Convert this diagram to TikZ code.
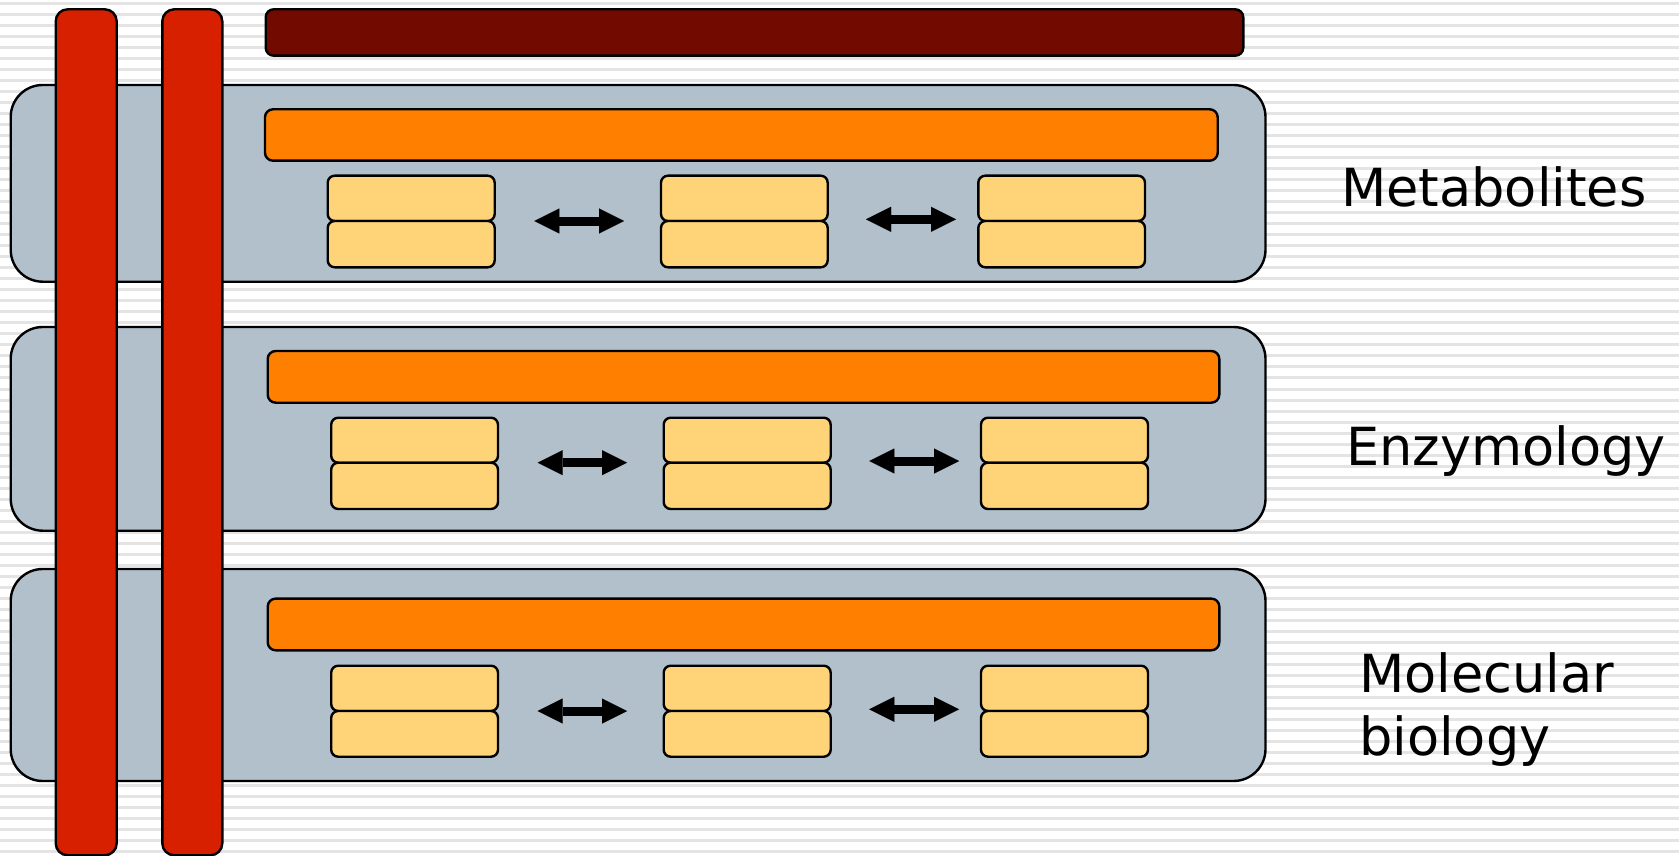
\documentclass[tikz,border=0pt]{standalone}
\usepackage{fontspec}
\setmainfont{DejaVu Sans}
\usetikzlibrary{fit,arrows.meta}
\definecolor{stripegray}{HTML}{E4E4E4}
\definecolor{barred}{HTML}{D62000}
\definecolor{darkbar}{HTML}{720A00}
\definecolor{panelgray}{HTML}{B2C0CC}
\definecolor{layerorange}{HTML}{FF7F00}
\definecolor{cellyellow}{HTML}{FFD479}
\begin{document}
\begin{tikzpicture}[x=1pt,y=-1pt,
  shape box/.style={draw=black, line width=2.4pt, inner sep=0pt, outer sep=0pt},
  pillar/.style={shape box, fill=barred, rounded corners=12pt},
  headbar/.style={shape box, fill=darkbar, rounded corners=8pt},
  panel/.style={shape box, fill=panelgray, rounded corners=32pt},
  layerbar/.style={shape box, fill=layerorange, rounded corners=8pt},
  cell/.style={shape box, fill=cellyellow, rounded corners=7pt},
  swap/.style={line width=9pt, draw=black,
    {Triangle[length=25pt,width=25pt,line width=0.01pt]}-{Triangle[length=25pt,width=25pt,line width=0.01pt]}},
  label/.style={anchor=base west, inner sep=0pt, font=\fontsize{52.5}{63}\selectfont}]

% page and striped backdrop
\useasboundingbox (0,0) rectangle (1679,856);
\fill[white] (0,0) rectangle (1679,856);
\foreach \k in {0,...,78}
  \fill[stripegray] (0,{3.3+11.02*\k-1.5}) rectangle (1679,{3.3+11.02*\k+1.5});

% top bar
\node[headbar, fit={(265.7,9.3) (1243.3,55.7)}] (top) {};

% three layers
\node[panel, fit={(10.7,85) (1265.5,281.7)}] (p1) {};
\node[panel, fit={(10.7,327) (1265.5,530.7)}] (p2) {};
\node[panel, fit={(10.7,569) (1265.5,781)}] (p3) {};

\node[layerbar, fit={(265,109.3) (1217.7,160.7)}] (o1) {};
\node[layerbar, fit={(267.7,351) (1219.3,402.7)}] (o2) {};
\node[layerbar, fit={(267.7,598.6) (1219.3,650.3)}] (o3) {};

% layer 1 cells
\node[cell, fit={(327.7,175.7) (494.7,221)}] (a1t) {};
\node[cell, fit={(327.7,221) (494.7,267.3)}] (a1b) {};
\node[cell, fit={(661,175.7) (827.7,221)}] (a2t) {};
\node[cell, fit={(661,221) (827.7,267.3)}] (a2b) {};
\node[cell, fit={(978.3,175.7) (1145,221)}] (a3t) {};
\node[cell, fit={(978.3,221) (1145,267.3)}] (a3b) {};

% layer 2 cells
\node[cell, fit={(331.2,417.7) (498,462.7)}] (b1t) {};
\node[cell, fit={(331.2,462.7) (498,509)}] (b1b) {};
\node[cell, fit={(663.7,417.7) (830.7,462.7)}] (b2t) {};
\node[cell, fit={(663.7,462.7) (830.7,509)}] (b2b) {};
\node[cell, fit={(981,417.7) (1148,462.7)}] (b3t) {};
\node[cell, fit={(981,462.7) (1148,509)}] (b3b) {};

% layer 3 cells
\node[cell, fit={(331.2,665.7) (498,711)}] (c1t) {};
\node[cell, fit={(331.2,711) (498,756.7)}] (c1b) {};
\node[cell, fit={(663.7,665.7) (830.7,711)}] (c2t) {};
\node[cell, fit={(663.7,711) (830.7,756.7)}] (c2b) {};
\node[cell, fit={(981,665.7) (1148,711)}] (c3t) {};
\node[cell, fit={(981,711) (1148,756.7)}] (c3b) {};

% exchange arrows between cells
\draw[swap, shorten <=39.6pt, shorten >=37pt] (a1t.south east) -- (a2t.south west);
\draw[swap, shorten <=38.3pt, shorten >=22.3pt] ([yshift=1.7pt]a2t.south east) -- ([yshift=1.7pt]a3t.south west);
\draw[swap, shorten <=39.7pt, shorten >=36.7pt] (b1t.south east) -- (b2t.south west);
\draw[swap, shorten <=38.6pt, shorten >=22pt] ([yshift=1.7pt]b2t.south east) -- ([yshift=1.7pt]b3t.south west);
\draw[swap, shorten <=39.7pt, shorten >=36.7pt] (c1t.south east) -- (c2t.south west);
\draw[swap, shorten <=38.6pt, shorten >=22pt] ([yshift=1.7pt]c2t.south east) -- ([yshift=1.7pt]c3t.south west);

% vertical pillars across all layers
\node[pillar, fit={(55.7,9.3) (116.7,855.3)}] (v1) {};
\node[pillar, fit={(162.3,9.3) (222.3,855.3)}] (v2) {};

% layer labels
\node[label] (lm) at (1341,206.7) {Metabolites};
\node[label] (le) at (1346,465.7) {Enzymology};
\node[label] (lb1) at (1359,692.7) {Molecular};
\node[label] (lb2) at (1359,755.7) {biology};
\end{tikzpicture}
\end{document}
